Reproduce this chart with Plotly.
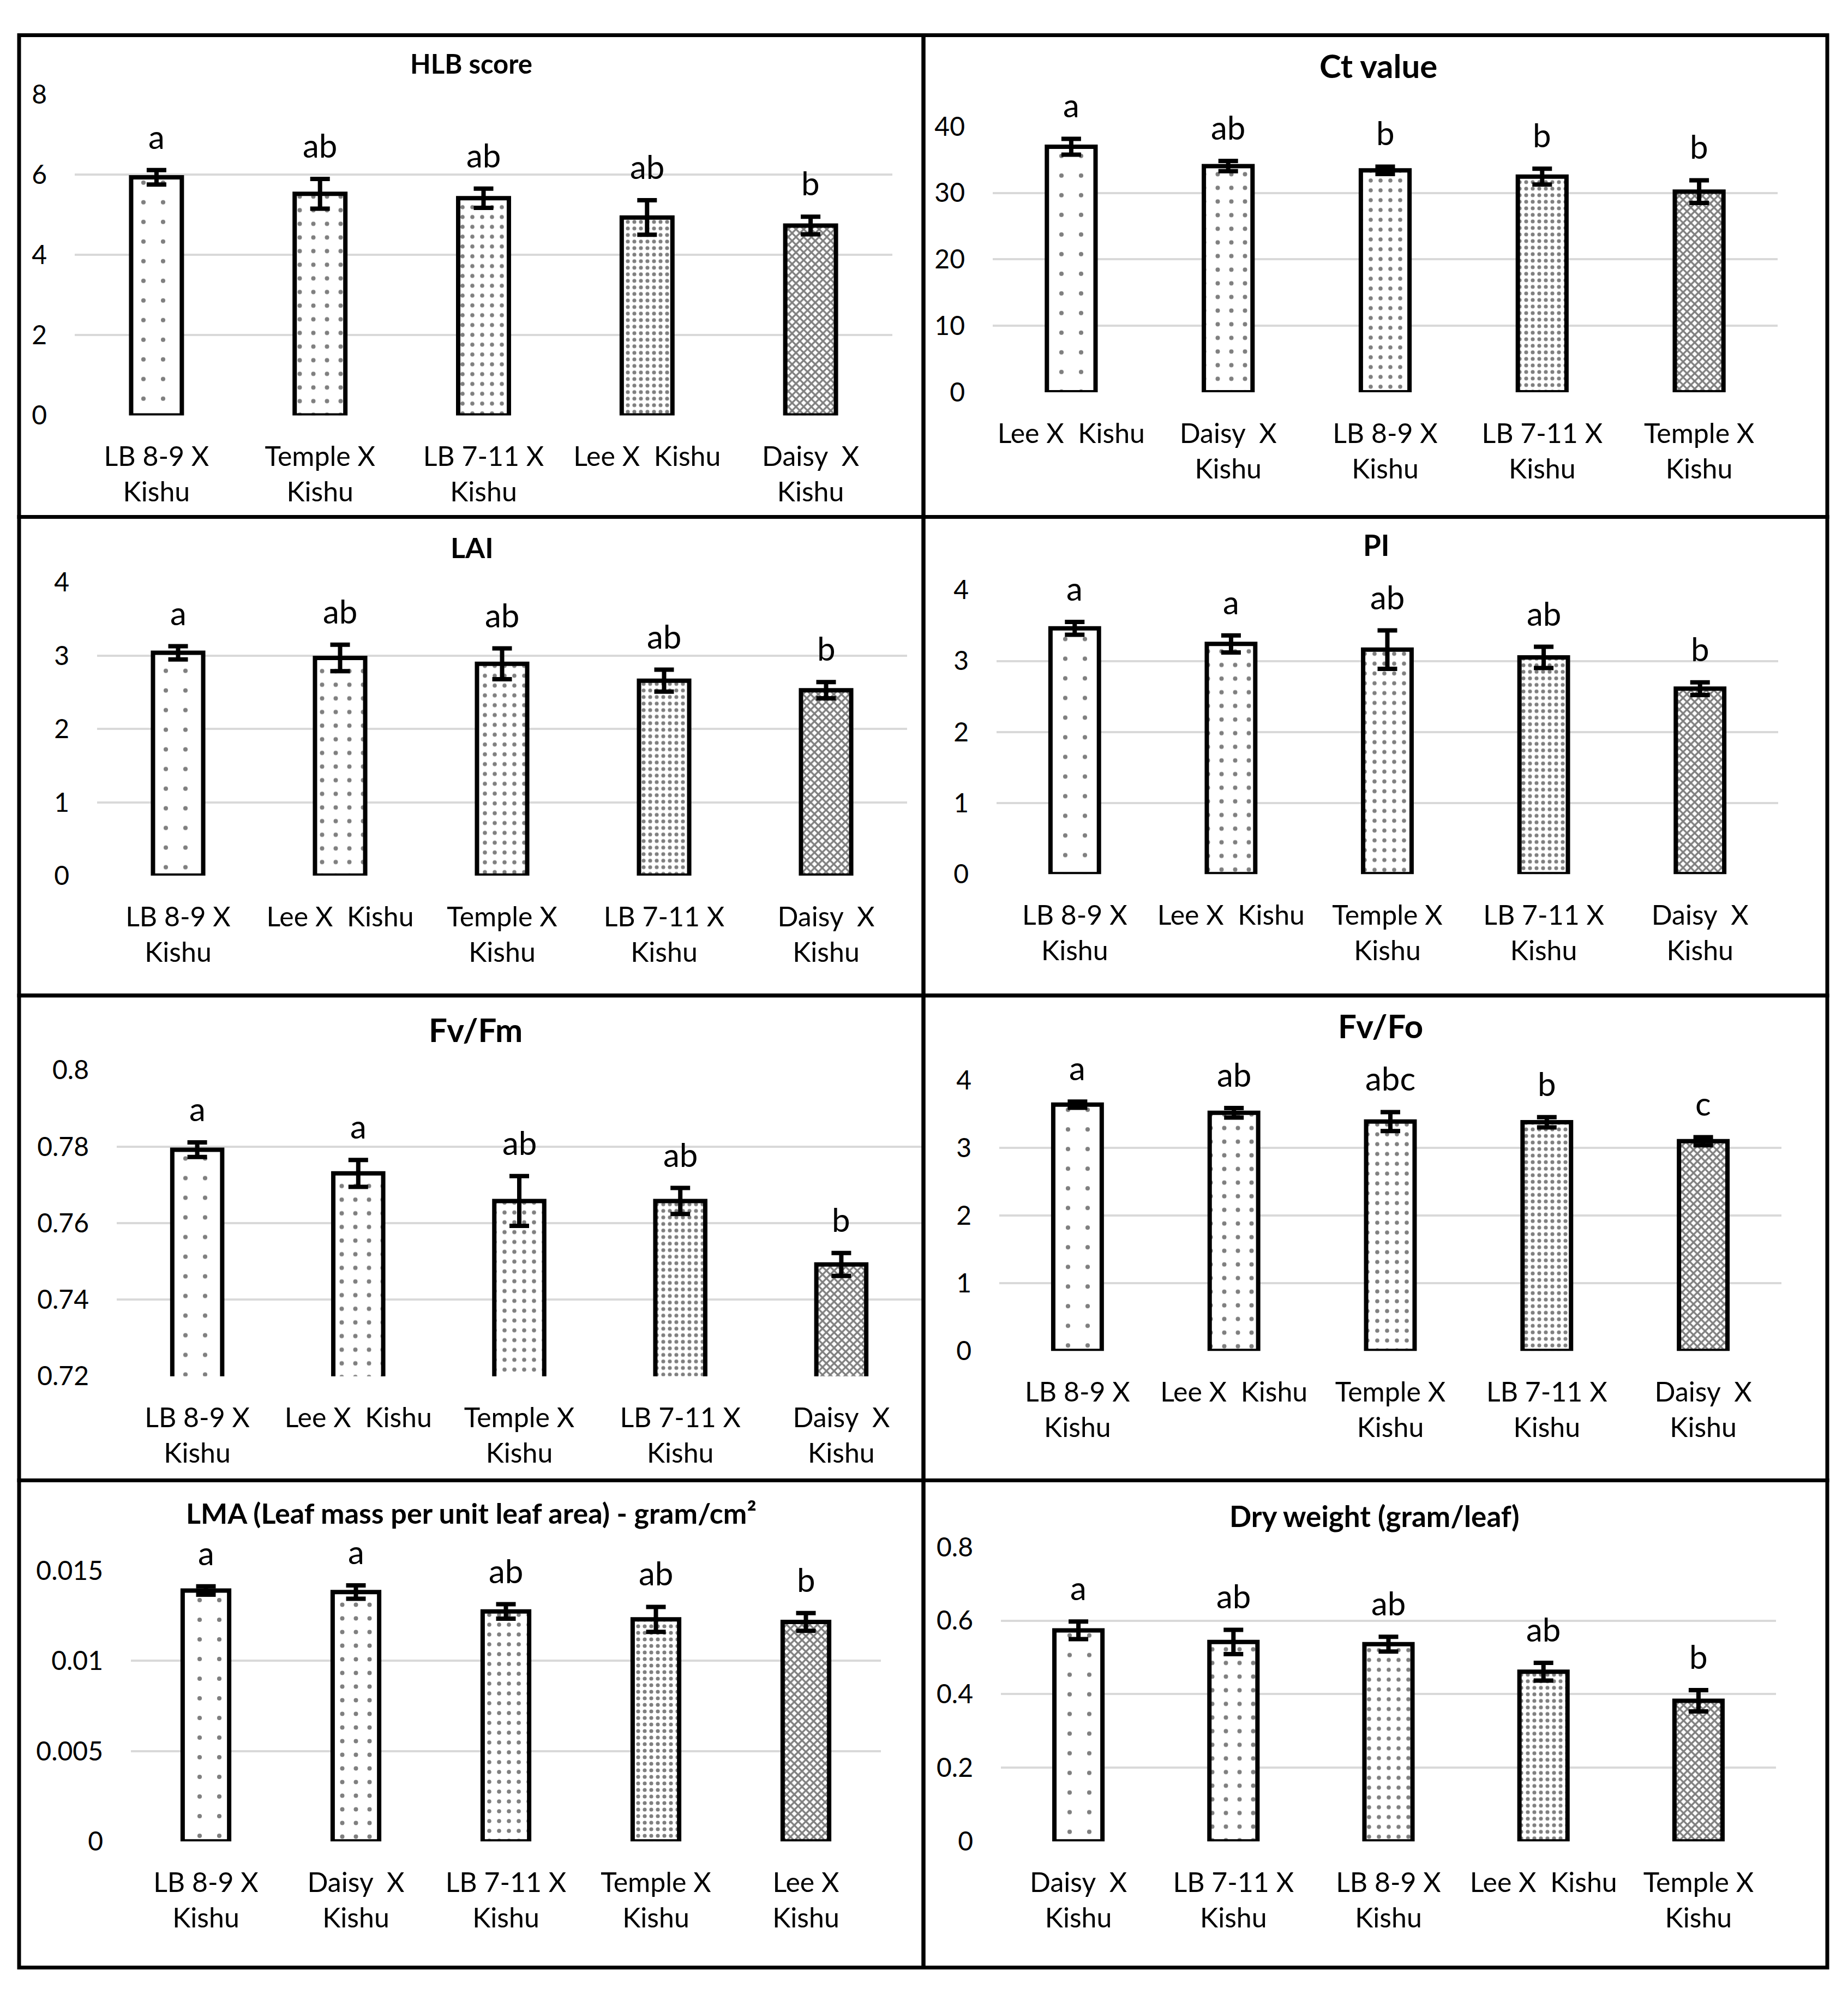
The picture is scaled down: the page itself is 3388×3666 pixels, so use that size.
import plotly.graph_objects as go

W, H = 3388, 3666
FONT = "Lato, Carlito, 'Noto Sans', sans-serif"

# ---------------- data ----------------
hlb_cats = ["LB 8-9 X Kishu", "Temple X Kishu", "LB 7-11 X Kishu", "Lee X Kishu", "Daisy X Kishu"]
hlb_labels = ["LB 8-9 X<br>Kishu", "Temple X<br>Kishu", "LB 7-11 X<br>Kishu", "Lee X\u00a0 Kishu", "Daisy\u00a0 X<br>Kishu"]
hlb_vals = [5.93, 5.52, 5.41, 4.93, 4.73]
hlb_err = [0.18, 0.37, 0.24, 0.43, 0.22]
hlb_letters = ["a", "ab", "ab", "ab", "b"]
hlb_ticks = [0, 2, 4, 6, 8]
hlb_ticktext = ["0", "2", "4", "6", "8"]

ct_cats = ["Lee X Kishu", "Daisy X Kishu", "LB 8-9 X Kishu", "LB 7-11 X Kishu", "Temple X Kishu"]
ct_labels = ["Lee X\u00a0 Kishu", "Daisy\u00a0 X<br>Kishu", "LB 8-9 X<br>Kishu", "LB 7-11 X<br>Kishu", "Temple X<br>Kishu"]
ct_vals = [36.95, 34.04, 33.4, 32.45, 30.2]
ct_err = [1.19, 0.77, 0.56, 1.19, 1.7]
ct_letters = ["a", "ab", "b", "b", "b"]
ct_ticks = [0, 10, 20, 30, 40]
ct_ticktext = ["0", "10", "20", "30", "40"]

lai_cats = ["LB 8-9 X Kishu", "Lee X Kishu", "Temple X Kishu", "LB 7-11 X Kishu", "Daisy X Kishu"]
lai_labels = ["LB 8-9 X<br>Kishu", "Lee X\u00a0 Kishu", "Temple X<br>Kishu", "LB 7-11 X<br>Kishu", "Daisy\u00a0 X<br>Kishu"]
lai_vals = [3.04, 2.97, 2.89, 2.66, 2.53]
lai_err = [0.09, 0.18, 0.21, 0.15, 0.11]
lai_letters = ["a", "ab", "ab", "ab", "b"]
lai_ticks = [0, 1, 2, 3, 4]
lai_ticktext = ["0", "1", "2", "3", "4"]

pi_cats = ["LB 8-9 X Kishu", "Lee X Kishu", "Temple X Kishu", "LB 7-11 X Kishu", "Daisy X Kishu"]
pi_labels = ["LB 8-9 X<br>Kishu", "Lee X\u00a0 Kishu", "Temple X<br>Kishu", "LB 7-11 X<br>Kishu", "Daisy\u00a0 X<br>Kishu"]
pi_vals = [3.46, 3.24, 3.16, 3.05, 2.61]
pi_err = [0.09, 0.12, 0.27, 0.15, 0.09]
pi_letters = ["a", "a", "ab", "ab", "b"]
pi_ticks = [0, 1, 2, 3, 4]
pi_ticktext = ["0", "1", "2", "3", "4"]

fvfm_cats = ["LB 8-9 X Kishu", "Lee X Kishu", "Temple X Kishu", "LB 7-11 X Kishu", "Daisy X Kishu"]
fvfm_labels = ["LB 8-9 X<br>Kishu", "Lee X\u00a0 Kishu", "Temple X<br>Kishu", "LB 7-11 X<br>Kishu", "Daisy\u00a0 X<br>Kishu"]
fvfm_vals = [0.7792, 0.773, 0.7658, 0.7658, 0.7492]
fvfm_err = [0.0019, 0.0035, 0.0065, 0.0034, 0.003]
fvfm_letters = ["a", "a", "ab", "ab", "b"]
fvfm_ticks = [0.72, 0.74, 0.76, 0.78, 0.8]
fvfm_ticktext = ["0.72", "0.74", "0.76", "0.78", "0.8"]

fvfo_cats = ["LB 8-9 X Kishu", "Lee X Kishu", "Temple X Kishu", "LB 7-11 X Kishu", "Daisy X Kishu"]
fvfo_labels = ["LB 8-9 X<br>Kishu", "Lee X\u00a0 Kishu", "Temple X<br>Kishu", "LB 7-11 X<br>Kishu", "Daisy\u00a0 X<br>Kishu"]
fvfo_vals = [3.64, 3.52, 3.39, 3.38, 3.10]
fvfo_err = [0.045, 0.07, 0.14, 0.075, 0.06]
fvfo_letters = ["a", "ab", "abc", "b", "c"]
fvfo_ticks = [0, 1, 2, 3, 4]
fvfo_ticktext = ["0", "1", "2", "3", "4"]

lma_cats = ["LB 8-9 X Kishu", "Daisy X Kishu", "LB 7-11 X Kishu", "Temple X Kishu", "Lee X Kishu"]
lma_labels = ["LB 8-9 X<br>Kishu", "Daisy\u00a0 X<br>Kishu", "LB 7-11 X<br>Kishu", "Temple X<br>Kishu", "Lee X<br>Kishu"]
lma_vals = [0.0139, 0.01381, 0.01274, 0.0123, 0.01216]
lma_err = [0.00023, 0.00037, 0.0004, 0.00069, 0.00049]
lma_letters = ["a", "a", "ab", "ab", "b"]
lma_ticks = [0, 0.005, 0.01, 0.015]
lma_ticktext = ["0", "0.005", "0.01", "0.015"]

dry_cats = ["Daisy X Kishu", "LB 7-11 X Kishu", "LB 8-9 X Kishu", "Lee X Kishu", "Temple X Kishu"]
dry_labels = ["Daisy\u00a0 X<br>Kishu", "LB 7-11 X<br>Kishu", "LB 8-9 X<br>Kishu", "Lee X\u00a0 Kishu", "Temple X<br>Kishu"]
dry_vals = [0.5735, 0.542, 0.536, 0.461, 0.382]
dry_err = [0.024, 0.033, 0.02, 0.024, 0.029]
dry_letters = ["a", "ab", "ab", "ab", "b"]
dry_ticks = [0, 0.2, 0.4, 0.6, 0.8]
dry_ticktext = ["0", "0.2", "0.4", "0.6", "0.8"]

titles = ["HLB score", "Ct value", "LAI", "PI", "Fv/Fm", "Fv/Fo",
          "LMA (Leaf mass per unit leaf area) - gram/cm\u00b2", "Dry weight (gram/leaf)"]

panels = [
    (hlb_cats, hlb_labels, hlb_vals, hlb_err, hlb_letters, hlb_ticks, hlb_ticktext),
    (ct_cats, ct_labels, ct_vals, ct_err, ct_letters, ct_ticks, ct_ticktext),
    (lai_cats, lai_labels, lai_vals, lai_err, lai_letters, lai_ticks, lai_ticktext),
    (pi_cats, pi_labels, pi_vals, pi_err, pi_letters, pi_ticks, pi_ticktext),
    (fvfm_cats, fvfm_labels, fvfm_vals, fvfm_err, fvfm_letters, fvfm_ticks, fvfm_ticktext),
    (fvfo_cats, fvfo_labels, fvfo_vals, fvfo_err, fvfo_letters, fvfo_ticks, fvfo_ticktext),
    (lma_cats, lma_labels, lma_vals, lma_err, lma_letters, lma_ticks, lma_ticktext),
    (dry_cats, dry_labels, dry_vals, dry_err, dry_letters, dry_ticks, dry_ticktext),
]

# ---------------- layout geometry (pixels) ----------------
# x0, x1, y_top, y_bottom of plot area; title centre x, y; title font size
geom = [
    (137, 1636, 145, 743, 864, 87, 49),
    (1820, 3259, 205, 700, 2527, 91, 60),
    (178, 1663, 1054, 1600, 865, 988, 52),
    (1827, 3260, 1068, 1597, 2523, 984, 53),
    (214, 1690, 1962, 2532, 872, 1886, 60),
    (1832, 3266, 1981, 2485, 2531, 1879, 60),
    (240, 1615, 2894, 3398, 864, 2786, 52),
    (1835, 3256, 2850, 3398, 2520, 2792, 53),
]

frames = [
    (35, 1693, 35, 932), (1693, 3350, 35, 932),
    (35, 1693, 932, 1823), (1693, 3350, 932, 1823),
    (35, 1693, 1823, 2726), (1693, 3350, 1823, 2726),
    (35, 1693, 2726, 3633), (1693, 3350, 2726, 3633),
]

patterns = [
    dict(shape=".", size=36, solidity=0.04),
    dict(shape=".", size=25, solidity=0.08),
    dict(shape=".", size=18, solidity=0.14),
    dict(shape=".", size=12, solidity=0.28),
    dict(shape="x", size=10, solidity=0.55),
]


def fx(p):
    return p / W


def fy(p):
    return 1 - p / H


fig = go.Figure()
layout = dict(
    width=W, height=H, margin=dict(l=0, r=0, t=0, b=0),
    paper_bgcolor="white", plot_bgcolor="white", showlegend=False,
    font=dict(family=FONT, color="#000000", size=50),
    annotations=[], shapes=[],
)

for i, (p, g) in enumerate(zip(panels, geom)):
    cats, labels, vals, err, letters, ticks, ticktext = p
    x0, x1, yt, yb, tx, ty, tsize = g
    n = "" if i == 0 else str(i + 1)
    xa, ya = "x" + n, "y" + n
    ymin, ymax = ticks[0], ticks[-1]
    for j in range(len(cats)):
        fig.add_trace(go.Bar(
            x=[cats[j]], y=[vals[j]], width=0.31,
            xaxis=xa, yaxis=ya,
            marker=dict(color="white", line=dict(color="black", width=8),
                        pattern=dict(fgcolor="black", bgcolor="white", **patterns[j])),
            error_y=dict(type="data", array=[err[j]], visible=True,
                         color="black", thickness=8, width=18),
            hoverinfo="skip",
        ))
        layout["annotations"].append(dict(
            x=cats[j], y=vals[j] + err[j], xref=xa, yref=ya,
            text=letters[j], showarrow=False, yanchor="bottom", yshift=24,
            font=dict(family=FONT, size=60, color="#000000"),
        ))
    layout["xaxis" + n] = dict(
        domain=[fx(x0), fx(x1)], anchor=ya, type="category",
        categoryorder="array", categoryarray=cats,
        tickvals=cats, ticktext=labels, range=[-0.5, len(cats) - 0.5],
        showline=False, showgrid=False, zeroline=False, ticks="",
        tickfont=dict(family=FONT, size=50, color="#000000"),
        ticklabelstandoff=42, fixedrange=True,
    )
    layout["yaxis" + n] = dict(
        domain=[fy(yb), fy(yt)], anchor=xa, range=[ymin, ymax],
        tickvals=ticks, ticktext=ticktext,
        showline=False, zeroline=False, ticks="",
        showgrid=True, gridcolor="#d9d9d9", gridwidth=4,
        tickfont=dict(family=FONT, size=48, color="#000000"),
        ticklabelstandoff=50, fixedrange=True,
    )
    layout["annotations"].append(dict(
        x=fx(tx), y=fy(ty), xref="paper", yref="paper",
        text="<b>" + titles[i] + "</b>", showarrow=False,
        xanchor="center", yanchor="middle",
        font=dict(family=FONT, size=tsize, color="#000000"),
    ))

for (a, b, c, d) in frames:
    layout["shapes"].append(dict(
        type="rect", xref="paper", yref="paper",
        x0=fx(a), x1=fx(b), y0=fy(d), y1=fy(c),
        line=dict(color="black", width=7), fillcolor="rgba(0,0,0,0)", layer="above",
    ))

fig.update_layout(**layout)
fig.update_layout(bargap=0.69)

fig.write_html("out.html", post_script="document.body.style.margin='0';",
               config={"displayModeBar": False})
